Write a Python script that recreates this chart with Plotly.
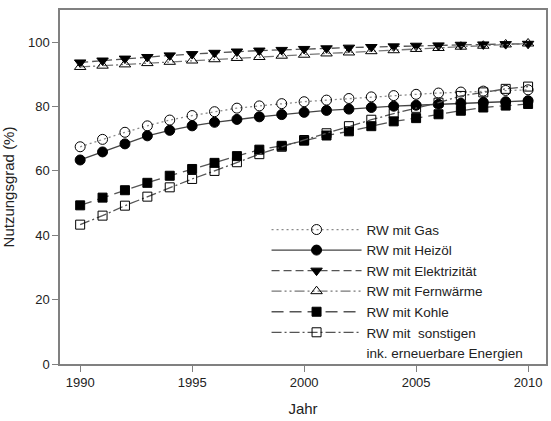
import plotly.graph_objects as go

years = list(range(1990, 2011))

gas = [67.5, 69.8, 72.0, 74.0, 75.8, 77.2, 78.4, 79.5, 80.2, 80.9, 81.5,
       82.0, 82.5, 83.0, 83.4, 83.8, 84.2, 84.5, 84.8, 85.0, 85.2]
heizoel = [63.4, 65.9, 68.4, 70.9, 72.6, 74.0, 75.1, 76.0, 76.8, 77.5, 78.2,
           78.8, 79.2, 79.7, 80.1, 80.4, 80.7, 81.0, 81.3, 81.5, 81.8]
elektrizitaet = [93.7, 94.3, 94.9, 95.4, 95.9, 96.3, 96.7, 97.1, 97.4, 97.6, 97.9,
                 98.1, 98.3, 98.5, 98.7, 98.9, 99.0, 99.2, 99.3, 99.4, 99.5]
fernwaerme = [92.3, 92.7, 93.1, 93.5, 93.9, 94.3, 94.7, 95.1, 95.4, 95.8, 96.1,
              96.5, 96.8, 97.2, 97.5, 97.9, 98.2, 98.6, 98.9, 99.3, 99.6]
kohle = [49.3, 51.7, 54.0, 56.3, 58.5, 60.6, 62.5, 64.6, 66.6, 67.8, 69.4,
         71.0, 72.3, 73.9, 75.4, 76.4, 77.6, 78.7, 79.7, 80.3, 80.8]
sonstige = [43.3, 46.1, 49.2, 52.0, 54.9, 57.5, 60.0, 62.7, 65.2, 67.5, 69.6,
            71.7, 73.9, 75.9, 77.8, 79.6, 81.2, 83.3, 84.4, 85.5, 86.2]

names = ["RW mit Gas", "RW mit Heizöl", "RW mit Elektrizität", "RW mit Fernwärme",
         "RW mit Kohle", "RW mit  sonstigen"]
extra_label = "ink. erneuerbare Energien"

x_ticks = [1990, 1995, 2000, 2005, 2010]
y_ticks = [0, 20, 40, 60, 80, 100]

styles = [
    dict(symbol="circle-open", dash="2px,3px", lc="#8a8a8a", size=10),
    dict(symbol="circle", dash="solid", lc="#444444", size=10),
    dict(symbol="triangle-down", dash="8px,4px", lc="#555555", size=10),
    dict(symbol="triangle-up-open", dash="10px,3px,2px,3px,2px,3px", lc="#777777", size=10),
    dict(symbol="square", dash="12px,6px", lc="#555555", size=9),
    dict(symbol="square-open", dash="10px,3px,2px,3px", lc="#555555", size=9),
]
series = [gas, heizoel, elektrizitaet, fernwaerme, kohle, sonstige]

fig = go.Figure()
for name, vals, st in zip(names, series, styles):
    fig.add_trace(go.Scatter(
        x=years, y=vals, name=name, mode="lines+markers",
        line=dict(color=st["lc"], width=1.3, dash=st["dash"]),
        marker=dict(symbol=st["symbol"], size=st["size"], color="black",
                    line=dict(color="black", width=1)),
    ))
# second line of the last legend entry
fig.add_trace(go.Scatter(x=[None], y=[None], name=extra_label, mode="lines",
                         line=dict(width=0, color="rgba(0,0,0,0)"), hoverinfo="skip"))

font_family = "Liberation Sans, Arial, sans-serif"
fig.update_layout(
    width=551, height=421,
    margin=dict(l=60, r=3, t=10, b=57),
    paper_bgcolor="white", plot_bgcolor="white",
    font=dict(family=font_family, size=13, color="#222222"),
    showlegend=True,
    legend=dict(x=0.425, y=0.423, xanchor="left", yanchor="top",
                bgcolor="rgba(255,255,255,0)", itemwidth=90,
                font=dict(size=13.5, family=font_family), tracegroupgap=0),
    xaxis=dict(range=[1989.1, 2010.8], tickvals=x_ticks, ticks="outside", ticklen=6,
               tickcolor="#808080", showline=True, linecolor="#808080", linewidth=1.5,
               mirror=True, showgrid=False, zeroline=False,
               title=dict(text="Jahr", font=dict(size=15), standoff=14)),
    yaxis=dict(range=[0, 110], tickvals=y_ticks, ticks="outside", ticklen=6,
               tickcolor="#808080", showline=True, linecolor="#808080", linewidth=1.5,
               mirror=True, showgrid=False, zeroline=False,
               title=dict(text="Nutzungsgrad (%)", font=dict(size=15), standoff=10)),
)

fig.write_html("out.html")
